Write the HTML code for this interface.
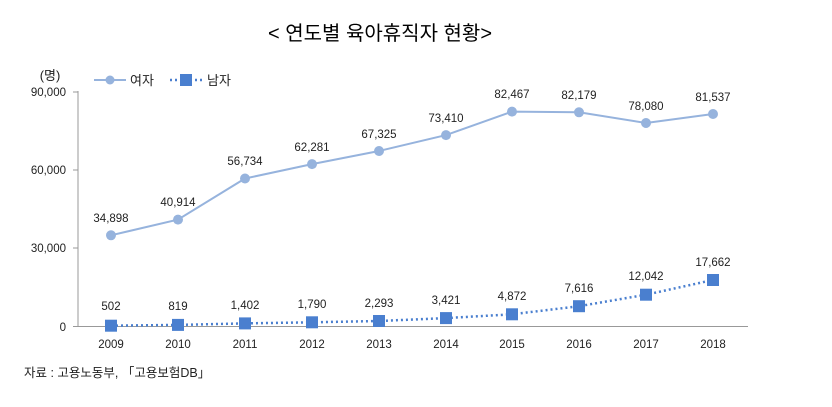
<!DOCTYPE html>
<html><head><meta charset="utf-8"><style>
body{margin:0;background:#fff;}
svg{display:block;font-family:"Liberation Sans","Noto Sans CJK KR",sans-serif;}
</style></head><body>
<svg width="832" height="407" xmlns="http://www.w3.org/2000/svg">
<text x="380" y="40" font-size="20" text-anchor="middle" fill="#000">&lt; 연도별 육아휴직자 현황&gt;</text>
<text x="50" y="80" font-size="13" fill="#222" text-anchor="middle">(명)</text>
<line x1="94" y1="80" x2="126" y2="80" stroke="#96b3dd" stroke-width="2"/>
<circle cx="110" cy="80" r="4.5" fill="#96b3dd"/>
<text x="130" y="85" font-size="13" fill="#222">여자</text>
<line x1="170" y1="80" x2="202" y2="80" stroke="#4a7fcf" stroke-width="2.5" stroke-dasharray="2,3"/>
<rect x="180" y="74" width="12" height="12" fill="#4a7fcf"/>
<text x="207" y="85" font-size="13" fill="#222">남자</text>
<g stroke="#999" stroke-width="1">
<line x1="78" y1="91" x2="78" y2="327"/>
<line x1="73" y1="92" x2="78" y2="92"/>
<line x1="73" y1="170" x2="78" y2="170"/>
<line x1="73" y1="248" x2="78" y2="248"/>
<line x1="73" y1="326.5" x2="748" y2="326.5"/>
</g>
<g font-size="11.5" fill="#222" text-anchor="end">
<text x="66" y="96">90,000</text>
<text x="66" y="174">60,000</text>
<text x="66" y="252">30,000</text>
<text x="66" y="331">0</text>
</g>
<g font-size="11.5" fill="#222" text-anchor="middle">
<text x="111" y="348">2009</text><text x="178" y="348">2010</text><text x="245" y="348">2011</text><text x="312" y="348">2012</text><text x="379" y="348">2013</text><text x="446" y="348">2014</text><text x="512" y="348">2015</text><text x="579" y="348">2016</text><text x="646" y="348">2017</text><text x="713" y="348">2018</text>
</g>
<polyline fill="none" stroke="#96b3dd" stroke-width="2" points="111,235.3 178,219.6 245,178.5 312,164.1 379,151 446,135.1 512,111.6 579,112.3 646,123 713,114"/>
<g fill="#96b3dd">
<circle cx="111" cy="235.3" r="5"/><circle cx="178" cy="219.6" r="5"/><circle cx="245" cy="178.5" r="5"/><circle cx="312" cy="164.1" r="5"/><circle cx="379" cy="151" r="5"/><circle cx="446" cy="135.1" r="5"/><circle cx="512" cy="111.6" r="5"/><circle cx="579" cy="112.3" r="5"/><circle cx="646" cy="123" r="5"/><circle cx="713" cy="114" r="5"/>
</g>
<g font-size="11.5" fill="#222" text-anchor="middle">
<text x="111" y="222">34,898</text><text x="178" y="206">40,914</text><text x="245" y="165">56,734</text><text x="312" y="151">62,281</text><text x="379" y="138">67,325</text><text x="446" y="122">73,410</text><text x="512" y="98">82,467</text><text x="579" y="99">82,179</text><text x="646" y="110">78,080</text><text x="713" y="101">81,537</text>
</g>
<polyline fill="none" stroke="#4a7fcf" stroke-width="2.5" stroke-dasharray="2,3" points="111,325.7 178,324.9 245,323.4 312,322.3 379,321 446,318.1 512,314.3 579,306.2 646,294.7 713,280"/>
<g fill="#4a7fcf">
<rect x="105" y="319.7" width="12" height="12"/><rect x="172" y="318.9" width="12" height="12"/><rect x="239" y="317.4" width="12" height="12"/><rect x="306" y="316.3" width="12" height="12"/><rect x="373" y="315" width="12" height="12"/><rect x="440" y="312.1" width="12" height="12"/><rect x="506" y="308.3" width="12" height="12"/><rect x="573" y="300.2" width="12" height="12"/><rect x="640" y="288.7" width="12" height="12"/><rect x="707" y="274" width="12" height="12"/>
</g>
<g font-size="11.5" fill="#222" text-anchor="middle">
<text x="111" y="310">502</text><text x="178" y="310">819</text><text x="245" y="309">1,402</text><text x="312" y="308">1,790</text><text x="379" y="307">2,293</text><text x="446" y="304">3,421</text><text x="512" y="300">4,872</text><text x="579" y="292">7,616</text><text x="646" y="280">12,042</text><text x="713" y="266">17,662</text>
</g>
<text x="24" y="377" font-size="12.5" fill="#222">자료 : 고용노동부, 「고용보험DB」</text>
</svg>
</body></html>
